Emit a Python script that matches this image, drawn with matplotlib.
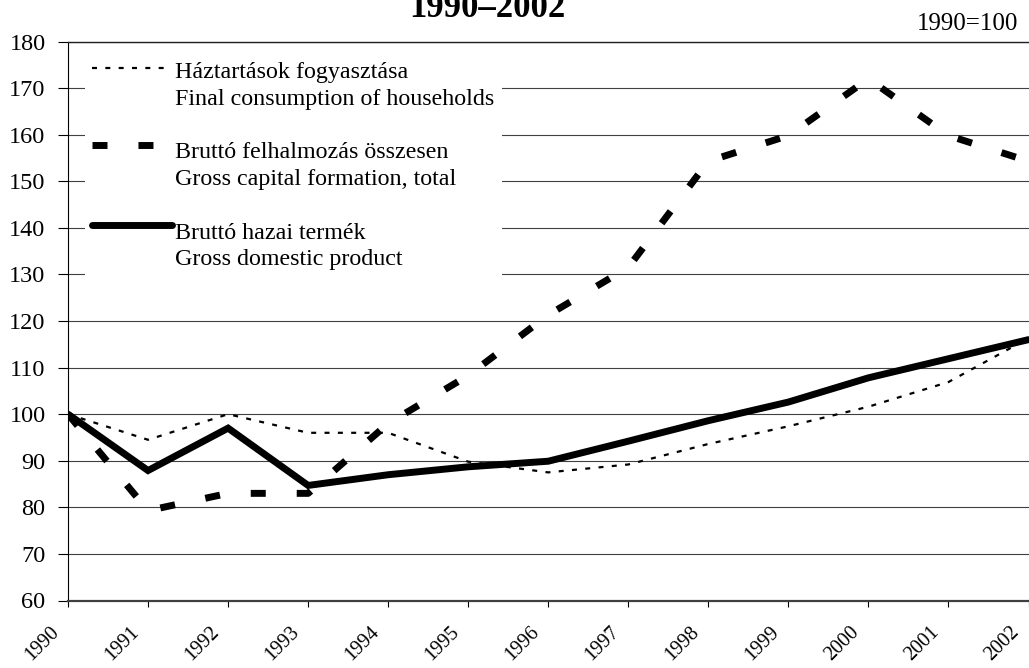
import matplotlib
matplotlib.use('Agg')
import matplotlib.pyplot as plt
import matplotlib.transforms as mtransforms
from matplotlib.legend_handler import HandlerLine2D

plt.rcParams['font.family'] = ['Liberation Serif', 'DejaVu Serif']
plt.rcParams['lines.scale_dashes'] = False

years = [1990, 1991, 1992, 1993, 1994, 1995, 1996, 1997, 1998, 1999, 2000, 2001, 2002]
households = [100, 94.5, 100.0, 96.0, 96.0, 89.8, 87.5, 89.2, 93.6, 97.4, 101.6, 106.9, 116.3]
capital = [100, 79.3, 83.0, 83.0, 98.0, 108.3, 121.3, 131.5, 154.3, 159.8, 172.0, 159.8, 154.3]
gdp = [100, 87.9, 97.0, 84.7, 87.0, 88.7, 89.9, 94.2, 98.6, 102.6, 107.8, 111.9, 116.0]

labels = ['Háztartások fogyasztása\nFinal consumption of households',
          'Bruttó felhalmozás összesen\nGross capital formation, total',
          'Bruttó hazai termék\nGross domestic product']
title = '1990–2002'
note = '1990=100'
yticks = list(range(60, 181, 10))

W, H = 1029, 668
fig = plt.figure(figsize=(W / 100, H / 100), dpi=100)
ax = fig.add_axes([68 / W, (H - 600.5) / H, (1028.5 - 68) / W, (600.5 - 41.5) / H])

l1, = ax.plot(years, households, color='black', lw=1.6, dashes=(3.6, 6.0), zorder=3)
l2, = ax.plot(years, capital, color='black', lw=5, dashes=(10.8, 22.3),
              dash_capstyle='butt', zorder=3)
l3, = ax.plot(years, gdp, color='black', lw=5, solid_capstyle='round',
              solid_joinstyle='miter', zorder=4)

ax.set_xlim(1990, 2002)
ax.set_ylim(60, 180)
ax.set_yticks(yticks)
ax.set_xticks(years)
ax.yaxis.grid(True, color='#404040', lw=0.8)
ax.set_axisbelow(True)

ax.spines['right'].set_visible(False)
ax.spines['top'].set_color('#202020')
ax.spines['top'].set_linewidth(1.0)
ax.spines['left'].set_color('black')
ax.spines['left'].set_linewidth(0.8)
ax.spines['bottom'].set_color('#404040')
ax.spines['bottom'].set_linewidth(1.6)

ax.tick_params(axis='y', length=7.2, width=0.8, labelsize=17.5, pad=9)
ax.tick_params(axis='x', length=4.3, width=0.8, labelsize=14.5, pad=0)

off = mtransforms.ScaledTranslation(-26 / 100, -37 / 100, fig.dpi_scale_trans)
for lab in ax.get_xticklabels():
    lab.set_rotation(45)
    lab.set_rotation_mode('anchor')
    lab.set_ha('center')
    lab.set_va('center')
    lab.set_transform(lab.get_transform() + off)


class TopHandler(HandlerLine2D):
    def __init__(self, dy, **kw):
        super().__init__(**kw)
        self.dy = dy

    def create_artists(self, legend, orig_handle, xdescent, ydescent, width,
                       height, fontsize, trans):
        arts = super().create_artists(legend, orig_handle, xdescent, ydescent,
                                      width, height, fontsize, trans)
        for a in arts:
            a.set_ydata([y + self.dy for y in a.get_ydata()])
        return arts


fs = 17.3
leg = ax.legend([l1, l2, l3], labels, loc='upper left',
                bbox_to_anchor=(85 / W, 1 - 55 / H), bbox_transform=fig.transFigure,
                borderaxespad=0, borderpad=0.3, fontsize=fs, handlelength=57.6 / fs,
                handletextpad=0.12, labelspacing=1.35, frameon=True, fancybox=False,
                handler_map={l1: TopHandler(12.7), l2: TopHandler(15.2), l3: TopHandler(15.5)})
for t in leg.get_texts():
    t.set_linespacing(1.36)
leg.get_frame().set_facecolor('white')
leg.get_frame().set_edgecolor('none')
leg.get_frame().set_alpha(1)
leg.set_zorder(5)

fig.text(487 / W, 1 - 17 / H, title, ha='center', va='baseline', fontsize=25,
         fontweight='bold')
fig.text(1018 / W, 1 - 30 / H, note, ha='right', va='baseline', fontsize=18)

fig.savefig('out.png', dpi=100)
